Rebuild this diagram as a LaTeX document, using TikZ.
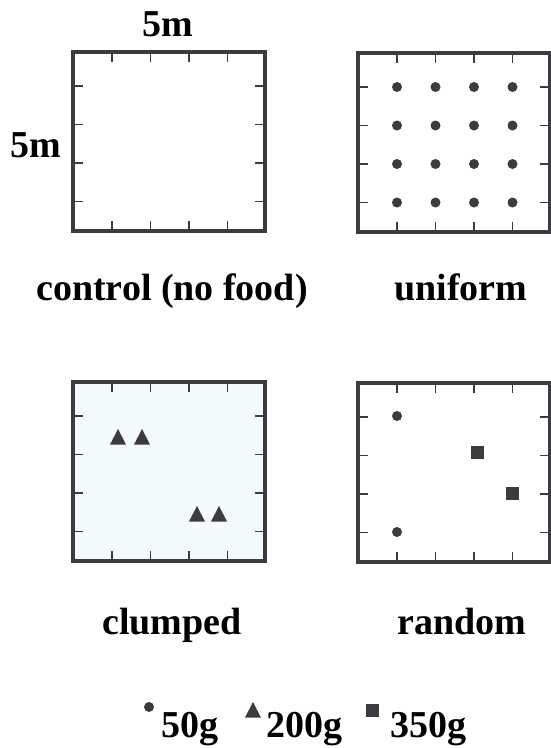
\documentclass[tikz,border=0pt]{standalone}
\usepackage{fontspec}
\setmainfont{Liberation Serif}
\usetikzlibrary{positioning}
\definecolor{frameColor}{HTML}{3C3B40}
\definecolor{clumpColor}{HTML}{F3FAFD}

\tikzset{
    frame/.style={draw=frameColor, line width=4.5pt},
    tickmark/.style={draw=frameColor, line width=1.5pt},
    lbl/.style={font=\fontsize{38}{42}\selectfont\bfseries, inner sep=0pt, anchor=base},
    marker/.style={fill=frameColor},
}
% one 5m x 5m plot: upper-left is (#1,#2) in picture units, #3 = fill
\newcommand{\quadrat}[3]{%
    \fill[#3] (#1,#2) rectangle ++(192,179);
    \foreach \k in {0,...,3} {
        \draw[tickmark] ({#1+39+38.5*\k},#2) -- ++(0,10);
        \draw[tickmark] ({#1+39+38.5*\k},{#2+179}) -- ++(0,-10);
        \draw[tickmark] (#1,{#2+34+38.5*\k}) -- ++(10,0);
        \draw[tickmark] ({#1+192},{#2+34+38.5*\k}) -- ++(-10,0);
    }
    \draw[frame] (#1,#2) rectangle ++(192,179);
}
\newcommand{\tri}[2]{\fill[marker] ({#1-8},{#2+7.5}) -- ({#1+8},{#2+7.5}) -- (#1,{#2-8}) -- cycle;}

\begin{document}
\begin{tikzpicture}[x=1pt, y=-1pt]
    \useasboundingbox (0,0) rectangle (551,748);

    % plots
    \quadrat{73}{52}{white}
    \quadrat{358}{53}{white}
    \quadrat{73}{382}{clumpColor}
    \quadrat{358}{383}{white}

    % uniform: 4 x 4 grid
    \foreach \i in {0,...,3}
        \foreach \j in {0,...,3}
            \fill[marker] ({397+38.5*\i},{87+38.5*\j}) circle (5);

    % clumped
    \tri{118}{437} \tri{142}{437}
    \tri{197}{514} \tri{219}{514}

    % random
    \fill[marker] (397,416) circle (5);
    \fill[marker] (397,532) circle (5);
    \fill[marker] (470.5,445.5) rectangle ++(13,13);
    \fill[marker] (505.5,486.5) rectangle ++(13,13);

    % labels
    \node[lbl] (topLbl) at (168,36) {5m};
    \node[lbl] (sideLbl) at (36,157) {5m};
    \node[lbl] (ctrlLbl) at (172,300) {control (no food)};
    \node[lbl] (unifLbl) at (461,300) {uniform};
    \node[lbl] (clumpLbl) at (172,634) {clumped};
    \node[lbl] (randLbl) at (462,634) {random};

    % legend
    \node[lbl, anchor=base west] (lgSmall) at (161,737) {50g};
    \node[lbl, anchor=base west] (lgMid) at (266,737) {200g};
    \node[lbl, anchor=base west] (lgBig) at (390,737) {350g};
    \fill[marker] (149,707) circle (5);
    \tri{253}{710}
    \fill[marker] (365.5,703.5) rectangle ++(13,13);
\end{tikzpicture}
\end{document}
